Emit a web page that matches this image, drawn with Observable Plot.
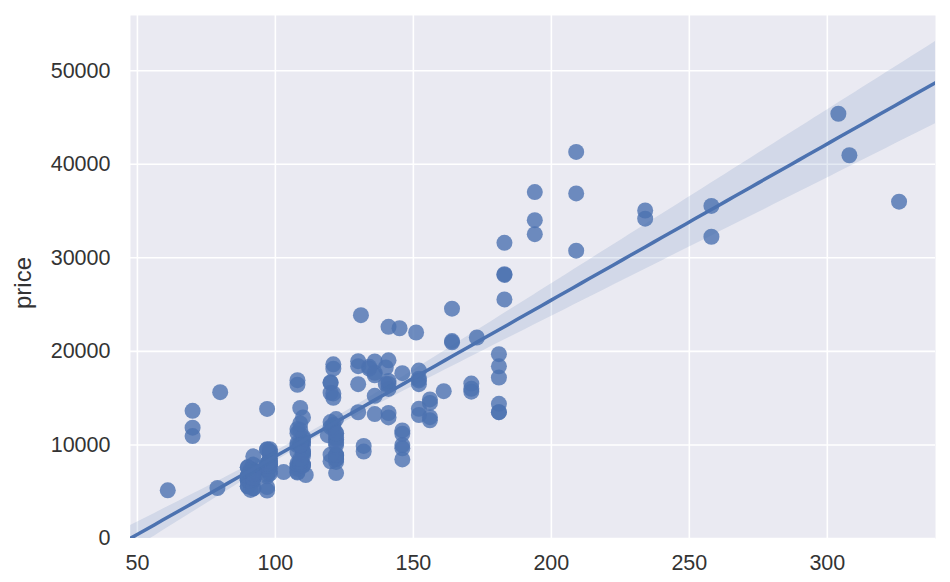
<!DOCTYPE html>
<html>
<head>
<meta charset="utf-8">
<script src="https://cdn.jsdelivr.net/npm/d3@7"></script>
<script src="https://cdn.jsdelivr.net/npm/@observablehq/plot@0.6"></script>
<style>
  html, body { margin: 0; padding: 0; background: #ffffff; }
  #chart { width: 950px; height: 582px; }
</style>
</head>
<body>
<div id="chart"></div>
<script>
// engine-size (x) and price (y), one entry per car
const engineSize = [
  130,130,152,109,136,136,136,136,131,
  108,108,164,164,164,209,209,209,
  61,90,90,
  90,90,98,90,90,90,98,122,156,
  92,92,79,92,92,92,92,110,110,110,110,110,110,
  111,119,
  258,258,326,
  91,91,91,91,91,70,70,70,80,122,122,122,122,122,122,140,134,
  183,183,183,183,234,234,308,304,
  140,
  92,92,92,98,110,122,156,156,156,122,122,110,110,
  97,103,97,97,97,97,97,97,97,120,120,97,181,181,181,181,181,181,
  120,152,120,152,120,152,120,152,120,152,134,
  90,98,90,90,90,98,122,
  151,194,194,194,
  132,132,
  121,121,121,121,121,121,
  97,108,108,108,108,108,108,108,108,108,108,108,
  92,92,92,92,92,92,98,98,110,110,98,98,98,98,98,98,98,146,146,146,146,146,146,122,110,122,110,122,171,171,171,161,
  97,109,97,109,109,97,109,109,109,136,97,109,
  141,141,141,141,130,130,141,141,173,145,141
];
const price = [
  13495,16500,16500,13950,17450,15250,17710,18920,23875,
  16430,16925,20970,21105,24565,30760,41315,36880,
  5151,6295,6575,
  5572,6377,7957,6229,6692,7609,8558,8921,12964,
  6479,6855,5399,6529,7129,7295,7295,7895,9095,8845,10295,12945,10345,
  6785,11048,
  32250,35550,36000,
  5195,6095,6795,6695,7395,10945,11845,13645,15645,8845,8495,10595,10245,10795,11245,18280,18344,
  25552,28248,28176,31600,34184,35056,40960,45400,
  16503,
  5389,6189,6669,7689,9959,8499,12629,14869,14489,6989,8189,9279,9279,
  5499,7099,6649,6849,7349,7299,7799,7499,7999,8249,8949,9549,13499,14399,13499,17199,19699,18399,
  11900,13200,12440,13860,15580,16900,16695,17075,16630,17950,18150,
  5572,7957,6229,6692,7609,8921,12764,
  22018,32528,34028,37028,
  9295,9895,
  11850,12170,15040,15510,18150,18620,
  5118,7053,7603,7126,7775,9960,9233,11259,7463,10198,8013,11694,
  5348,6338,6488,6918,7898,8778,6938,7198,7898,7788,7738,8358,9258,8058,8238,9298,9538,8449,9639,9989,11199,11549,17669,8948,10698,9988,10898,11248,16558,15998,15690,15750,
  7775,7975,7995,8195,8495,9495,9995,11595,9980,13295,13845,12290,
  12940,13415,15985,16515,18420,18950,16845,19045,21485,22470,22625
];
const xTicks = [50, 100, 150, 200, 250, 300];
const yTicks = [0, 10000, 20000, 30000, 40000, 50000];
const yLabel = "price";
const xDomain = [47.5, 339.2];
const yDomain = [0, 55900];

const cars = engineSize.map((x, i) => ({x, y: price[i]}));

// least-squares fit with a robust (sandwich) 95% band, extended over the axis
const n = cars.length;
const sx = d3.sum(cars, d => d.x), sy = d3.sum(cars, d => d.y);
const sxx = d3.sum(cars, d => d.x * d.x), sxy = d3.sum(cars, d => d.x * d.y);
const det = n * sxx - sx * sx;
const slope = (n * sxy - sx * sy) / det;
const intercept = (sy - slope * sx) / n;
const A = [[sxx / det, -sx / det], [-sx / det, n / det]];
let m00 = 0, m01 = 0, m11 = 0;
for (const d of cars) {
  const e = d.y - (intercept + slope * d.x);
  const e2 = e * e;
  m00 += e2; m01 += e2 * d.x; m11 += e2 * d.x * d.x;
}
const M = [[m00, m01], [m01, m11]];
const mul = (P, Q) => [
  [P[0][0]*Q[0][0] + P[0][1]*Q[1][0], P[0][0]*Q[0][1] + P[0][1]*Q[1][1]],
  [P[1][0]*Q[0][0] + P[1][1]*Q[1][0], P[1][0]*Q[0][1] + P[1][1]*Q[1][1]]
];
const V = mul(mul(A, M), A);
const fit = d3.range(0, 101).map(i => {
  const x = xDomain[0] + (xDomain[1] - xDomain[0]) * i / 100;
  const yhat = intercept + slope * x;
  const se = Math.sqrt(V[0][0] + 2 * x * V[0][1] + x * x * V[1][1]);
  return {x, y: yhat, lo: yhat - 1.96 * se, hi: yhat + 1.96 * se};
});

const blue = "#4C72B0";
const chart = Plot.plot({
  width: 950,
  height: 582,
  marginLeft: 130,
  marginRight: 15,
  marginTop: 15,
  marginBottom: 44,
  style: {fontFamily: "'Liberation Sans', Arial, sans-serif", background: "#ffffff", color: "#333333"},
  x: {domain: xDomain, label: null, axis: null},
  y: {domain: yDomain, label: null, axis: null},
  marks: [
    Plot.frame({fill: "#EAEAF2", stroke: "none"}),
    Plot.gridX(xTicks, {stroke: "#ffffff", strokeOpacity: 1, strokeWidth: 1.6}),
    Plot.gridY(yTicks, {stroke: "#ffffff", strokeOpacity: 1, strokeWidth: 1.6}),
    Plot.dot(cars, {x: "x", y: "y", r: 8, fill: blue, fillOpacity: 0.8, stroke: "none"}),
    Plot.areaY(fit, {x: "x", y1: "lo", y2: "hi", fill: blue, fillOpacity: 0.15, clip: true}),
    Plot.line(fit, {x: "x", y: "y", stroke: blue, strokeWidth: 3.5, clip: true}),
    Plot.axisX(xTicks, {tickSize: 0, tickPadding: 16, fontSize: 21.5, label: null}),
    Plot.axisY(yTicks, {tickSize: 0, tickPadding: 20, fontSize: 21.5, label: null, tickFormat: d => String(d)}),
    Plot.text([yLabel], {frameAnchor: "left", dx: -107, dy: 6, rotate: -90, textAnchor: "middle", fontSize: 24, fill: "#333333"})
  ]
});
document.getElementById("chart").appendChild(chart);
</script>
</body>
</html>
